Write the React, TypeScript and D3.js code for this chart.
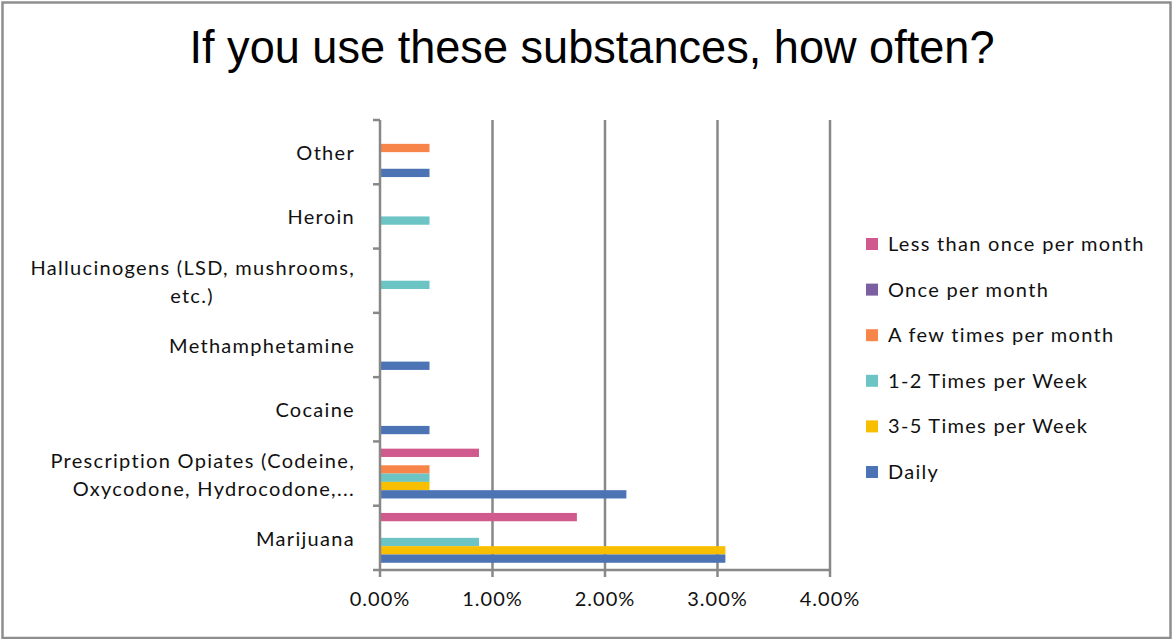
import React from "react";
import * as d3 from "d3";

// Substances, listed bottom-to-top as they appear on the axis
const categories = [
  "Marijuana",
  "Prescription Opiates",
  "Cocaine",
  "Methamphetamine",
  "Hallucinogens",
  "Heroin",
  "Other",
];

// Wrapped axis labels for each substance
const categoryLabelLines: string[][] = [
  ["Marijuana"],
  ["Prescription Opiates (Codeine,", "Oxycodone, Hydrocodone,..."],
  ["Cocaine"],
  ["Methamphetamine"],
  ["Hallucinogens (LSD, mushrooms,", "etc.)"],
  ["Heroin"],
  ["Other"],
];

// Frequency series, in legend order (top to bottom)
const seriesNames = [
  "Less than once per month",
  "Once per month",
  "A few times per month",
  "1-2 Times per Week",
  "3-5 Times per Week",
  "Daily",
];

// Percent of respondents, one value per category (same order as categories)
const lessThanMonthly = [1.75, 0.88, 0, 0, 0, 0, 0];
const oncePerMonth = [0, 0, 0, 0, 0, 0, 0];
const fewTimesPerMonth = [0, 0.44, 0, 0, 0, 0, 0.44];
const oneToTwoPerWeek = [0.88, 0.44, 0, 0, 0.44, 0.44, 0];
const threeToFivePerWeek = [3.07, 0.44, 0, 0, 0, 0, 0];
const daily = [3.07, 2.19, 0.44, 0.44, 0, 0, 0.44];

const seriesValues = [
  lessThanMonthly,
  oncePerMonth,
  fewTimesPerMonth,
  oneToTwoPerWeek,
  threeToFivePerWeek,
  daily,
];

const seriesColors = ["#D0598E", "#7B5FA0", "#F7854A", "#6CC4C4", "#F8BE00", "#4C74B5"];

const xTicks = [0, 1, 2, 3, 4];

const W = 1172;
const H = 639;
const plotLeft = 380;
const plotRight = 830;
const plotTop = 120;
const plotBottom = 570;
const axisColor = "#888888";
const labelFont = "Lato, 'Open Sans', sans-serif";
const labelSize = 20;
const labelSpacing = 1.3;

export default function App() {
  const x = d3.scaleLinear().domain([0, 4]).range([plotLeft, plotRight]);
  const y = d3
    .scaleBand<string>()
    .domain([...categories].reverse())
    .range([plotTop, plotBottom])
    .padding(0);
  const inner = d3
    .scaleBand<string>()
    .domain(seriesNames)
    .range([0, y.bandwidth()])
    .paddingInner(0)
    .paddingOuter(0.87);

  const bandEdges = categories.map((c) => y(c)!);
  const fmt = (v: number) => d3.format(".2f")(v) + "%";

  const legendX = 866;
  const legendY0 = 244;
  const legendStep = 45.6;

  return (
    <div style={{ position: "fixed", left: 0, top: 0 }}>
      <svg width={W} height={H} style={{ display: "block", background: "#fff" }}>
        <rect x={0} y={0} width={W} height={H} fill="#fff" />
        <rect
          x={2.5}
          y={2.5}
          width={W - 4}
          height={H - 3.5}
          fill="none"
          stroke="#8e8e8e"
          strokeWidth={2.5}
        />

        <text
          x={592}
          y={63}
          textAnchor="middle"
          fontFamily="'Liberation Sans', Arial, sans-serif"
          fontSize={46}
          textLength={805}
          lengthAdjust="spacingAndGlyphs"
          fill="#000"
        >
          If you use these substances, how often?
        </text>

        {/* vertical gridlines */}
        {xTicks.slice(1).map((t) => (
          <line
            key={"g" + t}
            x1={x(t)}
            x2={x(t)}
            y1={plotTop}
            y2={plotBottom + 7}
            stroke={axisColor}
            strokeWidth={2.5}
          />
        ))}

        {/* bars */}
        {seriesNames.map((s, si) =>
          categories.map((c, ci) => {
            const v = seriesValues[si][ci];
            if (!v) return null;
            return (
              <rect
                key={s + c}
                x={x(0)}
                y={y(c)! + inner(s)!}
                width={x(v) - x(0)}
                height={inner.bandwidth()}
                fill={seriesColors[si]}
              />
            );
          })
        )}

        {/* axes */}
        <line x1={plotLeft} x2={plotLeft} y1={plotTop} y2={plotBottom + 7} stroke={axisColor} strokeWidth={2.5} />
        <line x1={plotLeft - 7} x2={plotRight} y1={plotBottom} y2={plotBottom} stroke={axisColor} strokeWidth={2.5} />
        {bandEdges.map((e, i) => (
          <line key={"yt" + i} x1={plotLeft - 7} x2={plotLeft} y1={e} y2={e} stroke={axisColor} strokeWidth={2.5} />
        ))}

        {/* x tick labels */}
        {xTicks.map((t) => (
          <text
            key={"xl" + t}
            x={x(t)}
            y={606}
            textAnchor="middle"
            fontFamily={labelFont}
            fontSize={labelSize}
            letterSpacing={1}
            fill="#111"
          >
            {fmt(t)}
          </text>
        ))}

        {/* category labels */}
        {categories.map((c, ci) => {
          const lines = categoryLabelLines[ci];
          const lh = 28;
          const cy = y(c)! + y.bandwidth() / 2;
          const first = cy - ((lines.length - 1) * lh) / 2 + 8;
          const centered = c === "Hallucinogens";
          return lines.map((ln, li) => (
            <text
              key={c + li}
              x={centered && li > 0 ? 192 : 355}
              y={first + li * lh}
              textAnchor={centered && li > 0 ? "middle" : "end"}
              fontFamily={labelFont}
              fontSize={labelSize}
              letterSpacing={labelSpacing}
              fill="#111"
            >
              {ln}
            </text>
          ));
        })}

        {/* legend */}
        {seriesNames.map((s, si) => (
          <g key={"lg" + s} transform={`translate(${legendX},${legendY0 + si * legendStep})`}>
            <rect x={0} y={-6} width={12} height={12} fill={seriesColors[si]} />
            <text
              x={22}
              y={7}
              fontFamily={labelFont}
              fontSize={labelSize}
              letterSpacing={labelSpacing}
              fill="#111"
            >
              {s}
            </text>
          </g>
        ))}
      </svg>
    </div>
  );
}
